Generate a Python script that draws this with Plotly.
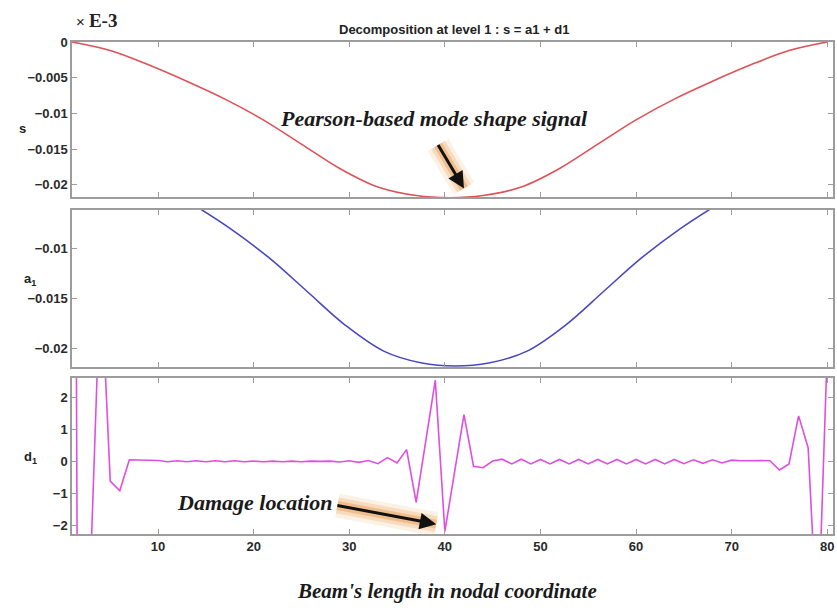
import plotly.graph_objects as go
from plotly.subplots import make_subplots

# ---- data ----
s_x = [1, 5, 9, 13, 17, 21, 25, 29, 33, 37, 40.5, 44, 48, 52, 56, 60, 64, 68, 72, 76, 80]
s_y = [0.0, -0.0012, -0.0032, -0.0055, -0.0080, -0.0109, -0.0143, -0.0177, -0.0203, -0.0215, -0.0218,
       -0.0215, -0.0203, -0.0177, -0.0143, -0.0109, -0.0080, -0.0055, -0.0032, -0.0012, 0.0]

a1_x = [1.6, 5.6, 9.6, 13.6, 17.6, 21.6, 25.6, 29.6, 33.6, 37.6, 41.1, 44.6, 48.6, 52.6, 56.6, 60.6,
        64.6, 68.6, 72.6, 76.6, 80.6]
a1_y = [0.0, -0.0012, -0.0032, -0.0055, -0.0080, -0.0109, -0.0143, -0.0177, -0.0203, -0.0215, -0.0218,
        -0.0215, -0.0203, -0.0177, -0.0143, -0.0109, -0.0080, -0.0055, -0.0032, -0.0012, 0.0]

d1_x = list(range(1, 82))
d1_y = [40.0, -40.0, -2.8, 6.0, -0.62, -0.92, 0.05, 0.04, 0.02, 0.03,
        -0.01, 0.02, -0.01, 0.02, -0.01, 0.02, -0.01, 0.02, -0.01, 0.01,
        -0.01, 0.01, -0.01, 0.01, -0.01, 0.01, 0.0, 0.01, -0.02, 0.02,
        -0.03, 0.03, -0.07, 0.12, -0.05, 0.37, -1.29, 0.65, 2.55, -2.2,
        -0.35, 1.47, -0.15, -0.2, 0.01, 0.07, -0.08, 0.07, -0.08, 0.06,
        -0.08, 0.06, -0.08, 0.06, -0.08, 0.06, -0.08, 0.06, -0.08, 0.06,
        -0.08, 0.06, -0.08, 0.06, -0.07, 0.05, -0.06, 0.05, -0.05, 0.04,
        0.02, 0.03, 0.03, 0.02, -0.27, -0.08, 1.43, 0.43, -5.5, 3.5,
        10.0]

x_ticks = [10, 20, 30, 40, 50, 60, 70, 80]
s_ticks = [0, -0.005, -0.01, -0.015, -0.02]
a1_ticks = [-0.01, -0.015, -0.02]
d1_ticks = [2, 1, 0, -1, -2]

title_text = "Decomposition at level 1 : s = a1 + d1"
xlabel = "Beam's length in nodal coordinate"
note1 = "Pearson-based mode shape signal"
note2 = "Damage location"

# ---- figure ----
fig = make_subplots(rows=3, cols=1, shared_xaxes=False, vertical_spacing=0.02)

fig.add_trace(go.Scatter(x=s_x, y=s_y, mode="lines", line=dict(color="#dc5257", width=1.6, shape="spline"),
                         showlegend=False, hoverinfo="skip"), row=1, col=1)
fig.add_trace(go.Scatter(x=a1_x, y=a1_y, mode="lines", line=dict(color="#4a48c0", width=1.6, shape="spline"),
                         showlegend=False, hoverinfo="skip"), row=2, col=1)
fig.add_trace(go.Scatter(x=d1_x, y=d1_y, mode="lines", line=dict(color="#e04ee0", width=1.6),
                         showlegend=False, hoverinfo="skip"), row=3, col=1)

H, T, B, L, R = 608, 42, 74, 72, 2
ph = H - T - B
doms = [((534 - 197) / ph, 1.0), ((534 - 367) / ph, (534 - 210) / ph), (0.0, (534 - 378) / ph)]
yr = [[-0.0217, 0.0], [-0.0219, -0.0061], [-2.28, 2.62]]
yt = [s_ticks, a1_ticks, d1_ticks]

tickfont = dict(family="Liberation Sans, Arial", size=13, color="#2a2a2a", weight="bold")
axcol = "#9c9c9c"
for i in range(3):
    xa = "xaxis" if i == 0 else f"xaxis{i+1}"
    ya = "yaxis" if i == 0 else f"yaxis{i+1}"
    fig.layout[xa].update(range=[1, 80.6], tickvals=x_ticks, showticklabels=(i == 2),
                          ticks="inside", ticklen=5, tickcolor=axcol, showline=True, linecolor=axcol,
                          linewidth=1.5, mirror="ticks", showgrid=False, zeroline=False, tickfont=tickfont)
    fig.layout[ya].update(domain=list(doms[i]), range=yr[i], tickvals=yt[i],
                          ticks="inside", ticklen=5, tickcolor=axcol, showline=True, linecolor=axcol,
                          linewidth=1.5, mirror="ticks", showgrid=False, zeroline=False, tickfont=tickfont)

serif = "Liberation Serif, Times New Roman, serif"
ann = []
# title
ann.append(dict(text="<b>" + title_text + "</b>", xref="paper", yref="paper", x=(455 - L) / 763, y=1 + 12 / ph,
                showarrow=False, font=dict(family="Liberation Sans, Arial", size=13, color="#222"),
                xanchor="center", yanchor="middle"))
# exponent label
ann.append(dict(text="<span style='font-family:Liberation Sans;font-size:15px;font-weight:normal'>× </span>"
                     "<b>E-3</b>", xref="paper", yref="paper", x=0.002, y=1 + 22 / ph,
                showarrow=False, font=dict(family=serif, size=19, color="#222"),
                xanchor="left", yanchor="middle"))
# y labels
for txt, xpx, ypx in [("<b>s</b>", 22, 128), ("<b>a<sub>1</sub></b>", 30, 279), ("<b>d<sub>1</sub></b>", 30, 458)]:
    ann.append(dict(text=txt, xref="paper", yref="paper", x=(xpx - L) / 763, y=(534 - ypx) / ph,
                    showarrow=False, font=dict(family="Liberation Sans, Arial", size=13, color="#222"),
                    xanchor="center", yanchor="middle"))
# x label
ann.append(dict(text="<b><i>" + xlabel + "</i></b>", xref="paper", yref="paper", x=(448 - L) / 763,
                y=-(605 - 534) / ph, showarrow=False, font=dict(family=serif, size=21, color="#1a1a1a"),
                xanchor="center", yanchor="bottom"))
# notes
ann.append(dict(text="<b><i>" + note1 + "</i></b>", xref="x", yref="y", x=38.9, y=-0.01072,
                showarrow=False, font=dict(family=serif, size=22, color="#1a1a1a"),
                xanchor="center", yanchor="middle"))
ann.append(dict(text="<b><i>" + note2 + "</i></b>", xref="x3", yref="y3", x=20.1, y=-1.28,
                showarrow=False, font=dict(family=serif, size=22, color="#1a1a1a"),
                xanchor="center", yanchor="middle"))

# arrows with orange glow
arrows = [("x", "y", 39.2, -0.0142, 42.0, -0.0205), ("x3", "y3", 28.6, -1.375, 39.1, -1.97)]
for xr, yrf, tx, ty, hx, hy in arrows:
    for w, c in [(24, "rgba(240,175,100,0.16)"), (16, "rgba(235,160,80,0.26)"), (9, "rgba(230,145,60,0.38)")]:
        ann.append(dict(xref=xr, yref=yrf, axref=xr, ayref=yrf, x=hx, y=hy, ax=tx, ay=ty, text="",
                        showarrow=True, arrowhead=0, arrowwidth=w, arrowcolor=c, standoff=0, startstandoff=0))
    ann.append(dict(xref=xr, yref=yrf, axref=xr, ayref=yrf, x=hx, y=hy, ax=tx, ay=ty, text="",
                    showarrow=True, arrowhead=2, arrowsize=1.1, arrowwidth=3, arrowcolor="#111"))

fig.update_layout(width=837, height=608, margin=dict(l=L, r=R, t=T, b=B),
                  paper_bgcolor="white", plot_bgcolor="white", annotations=ann, showlegend=False)

fig.write_html("out.html")
